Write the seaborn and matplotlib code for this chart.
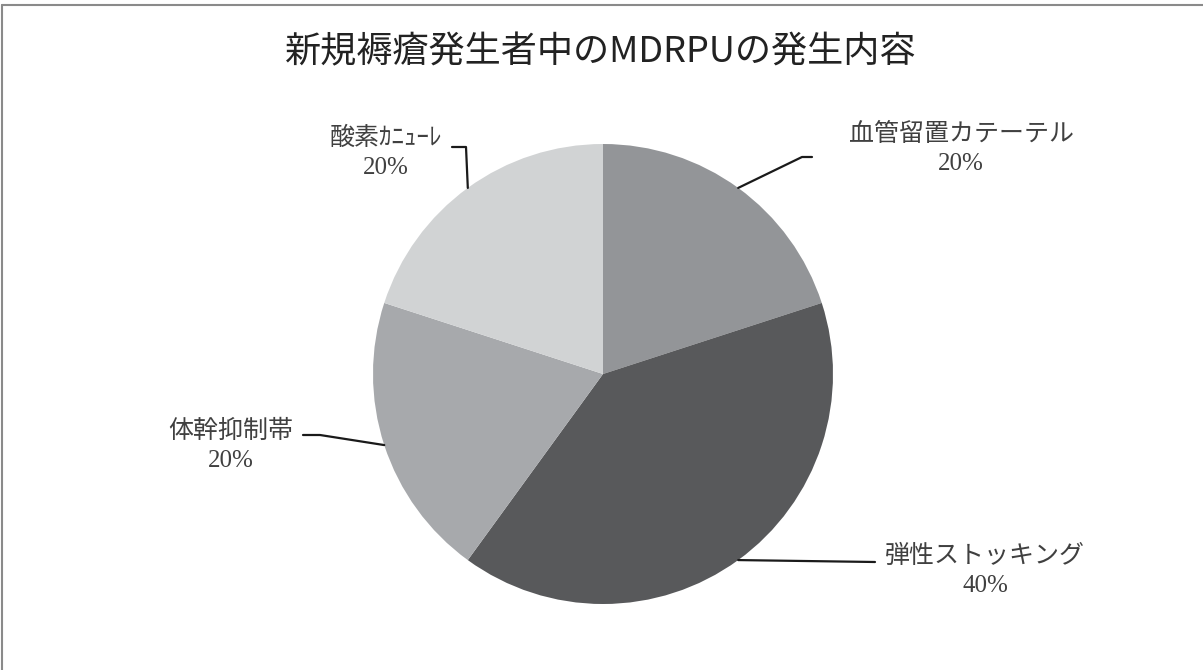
import numpy as np
import matplotlib
matplotlib.use("Agg")
import matplotlib.pyplot as plt
import seaborn as sns
from matplotlib.lines import Line2D

# data
categories = ["血管留置カテーテル", "弾性ストッキング", "体幹抑制帯", "酸素ｶﾆｭｰﾚ"]
values = [20, 40, 20, 20]
colors = ["#939598", "#58595b", "#a7a9ac", "#d1d3d4"]
title = "新規褥瘡発生者中のMDRPUの発生内容"

sns.set_theme(style="white")
plt.rcParams["font.family"] = ["Noto Sans CJK JP", "DejaVu Sans"]

W, H = 1203, 670
fig = plt.figure(figsize=(W / 100, H / 100), dpi=100)
fig.patch.set_facecolor("white")

cx, cy, r = 603, 374, 230
ax = fig.add_axes([(cx - r) / W, (H - cy - r) / H, 2 * r / W, 2 * r / H])
wedges, _ = ax.pie(values, colors=colors, startangle=90, counterclock=False,
                   radius=1, wedgeprops=dict(linewidth=0))
ax.set_xlim(-1, 1)
ax.set_ylim(-1, 1)
ax.set_aspect("equal")
ax.axis("off")


def px(x, y):
    return (x - cx) / r, (cy - y) / r


# label centres and leader elbows in pixel space
label_pos = [(961, 149), (985, 571), (231, 446), (386, 153)]
elbows = [[(802, 157), (812, 157)],
          [(875, 562)],
          [(320, 435), (303, 435)],
          [(466, 147), (452, 147)]]

lab_font = ["Liberation Serif", "Noto Sans CJK JP"]
total = sum(values)
for w, cat, v, lp, el in zip(wedges, categories, values, label_pos, elbows):
    ang = np.deg2rad((w.theta1 + w.theta2) / 2)
    start = (np.cos(ang), np.sin(ang))
    pts = [start] + [px(*p) for p in el]
    xs, ys = zip(*pts)
    ax.plot(xs, ys, color="#1a1a1a", lw=1.6, clip_on=False)
    tx, ty = px(*lp)
    ax.text(tx, ty, f"{cat}\n{v / total * 100:.0f}%", ha="center", va="center",
            fontsize=18, color="#404040", family=lab_font, linespacing=1.4,
            clip_on=False)

fig.text(601 / W, 1 - 52 / H, title, ha="center", va="center",
         fontsize=26, color="#222222", family=["Noto Sans CJK JP", "DejaVu Sans"])

# outer frame (top and left edges visible)
fig.add_artist(Line2D([1.5 / W, 1], [1 - 5 / H, 1 - 5 / H], color="#8a8a8a", lw=1.5))
fig.add_artist(Line2D([1.5 / W, 1.5 / W], [0, 1 - 5 / H], color="#8a8a8a", lw=1.5))

fig.savefig("out.png", dpi=100, facecolor="white")
